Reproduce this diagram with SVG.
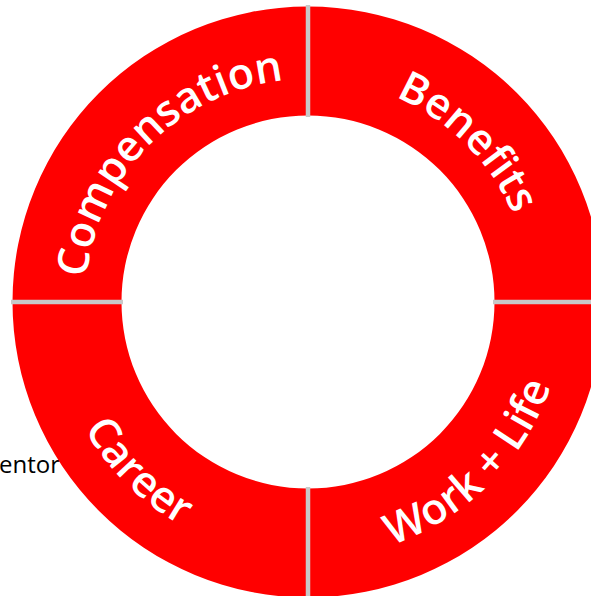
<svg xmlns="http://www.w3.org/2000/svg" xmlns:xlink="http://www.w3.org/1999/xlink" width="591" height="596" viewBox="0 0 591 596">
  <style>
    .seg { fill: #ff0000; }
    .lbl { fill: #ffffff; font-family: "Open Sans", "DejaVu Sans", sans-serif; font-weight: 600; font-size: 43px; }
    .sep { stroke: #c8c8c8; stroke-width: 4.5; fill: none; }
    .side { fill: #000000; font-family: "Open Sans", "Liberation Sans", sans-serif; font-size: 24px; }
  </style>
  <defs>
    <!-- baseline arcs: upper labels run clockwise, lower labels counter-clockwise -->
    <path id="arcComp" d="M 85 302 A 223 223 0 0 1 308 79"/>
    <path id="arcBen" d="M 308 79 A 223 223 0 0 1 531 302"/>
    <path id="arcCar" d="M 51 302 A 257 257 0 0 0 308 559"/>
    <path id="arcWork" d="M 308 559 A 257 257 0 0 0 565 302"/>
  </defs>
  <rect width="591" height="596" fill="#ffffff"/>

  <text class="side" x="-1" y="473">entor</text>

  <g id="compensation">
    <path class="seg" d="M 12.5 302 A 295.5 295.5 0 0 1 308 6.5 L 308 115.5 A 186.5 186.5 0 0 0 121.5 302 Z"/>
    <text class="lbl" text-anchor="middle"><textPath xlink:href="#arcComp" href="#arcComp" startOffset="50%">Compensation</textPath></text>
  </g>
  <g id="benefits">
    <path class="seg" d="M 308 6.5 A 295.5 295.5 0 0 1 603.5 302 L 494.5 302 A 186.5 186.5 0 0 0 308 115.5 Z"/>
    <text class="lbl" text-anchor="middle"><textPath xlink:href="#arcBen" href="#arcBen" startOffset="50%">Benefits</textPath></text>
  </g>
  <g id="work-life">
    <path class="seg" d="M 603.5 302 A 295.5 295.5 0 0 1 308 597.5 L 308 488.5 A 186.5 186.5 0 0 0 494.5 302 Z"/>
    <text class="lbl" text-anchor="middle"><textPath xlink:href="#arcWork" href="#arcWork" startOffset="50%">Work + Life</textPath></text>
  </g>
  <g id="career">
    <path class="seg" d="M 308 597.5 A 295.5 295.5 0 0 1 12.5 302 L 121.5 302 A 186.5 186.5 0 0 0 308 488.5 Z"/>
    <text class="lbl" text-anchor="middle"><textPath xlink:href="#arcCar" href="#arcCar" startOffset="50%">Career</textPath></text>
  </g>

  <g id="separators">
    <line class="sep" x1="308" y1="5" x2="308" y2="117"/>
    <line class="sep" x1="308" y1="487" x2="308" y2="599"/>
    <line class="sep" x1="11" y1="302" x2="123" y2="302"/>
    <line class="sep" x1="493" y1="302" x2="605" y2="302"/>
  </g>
</svg>
